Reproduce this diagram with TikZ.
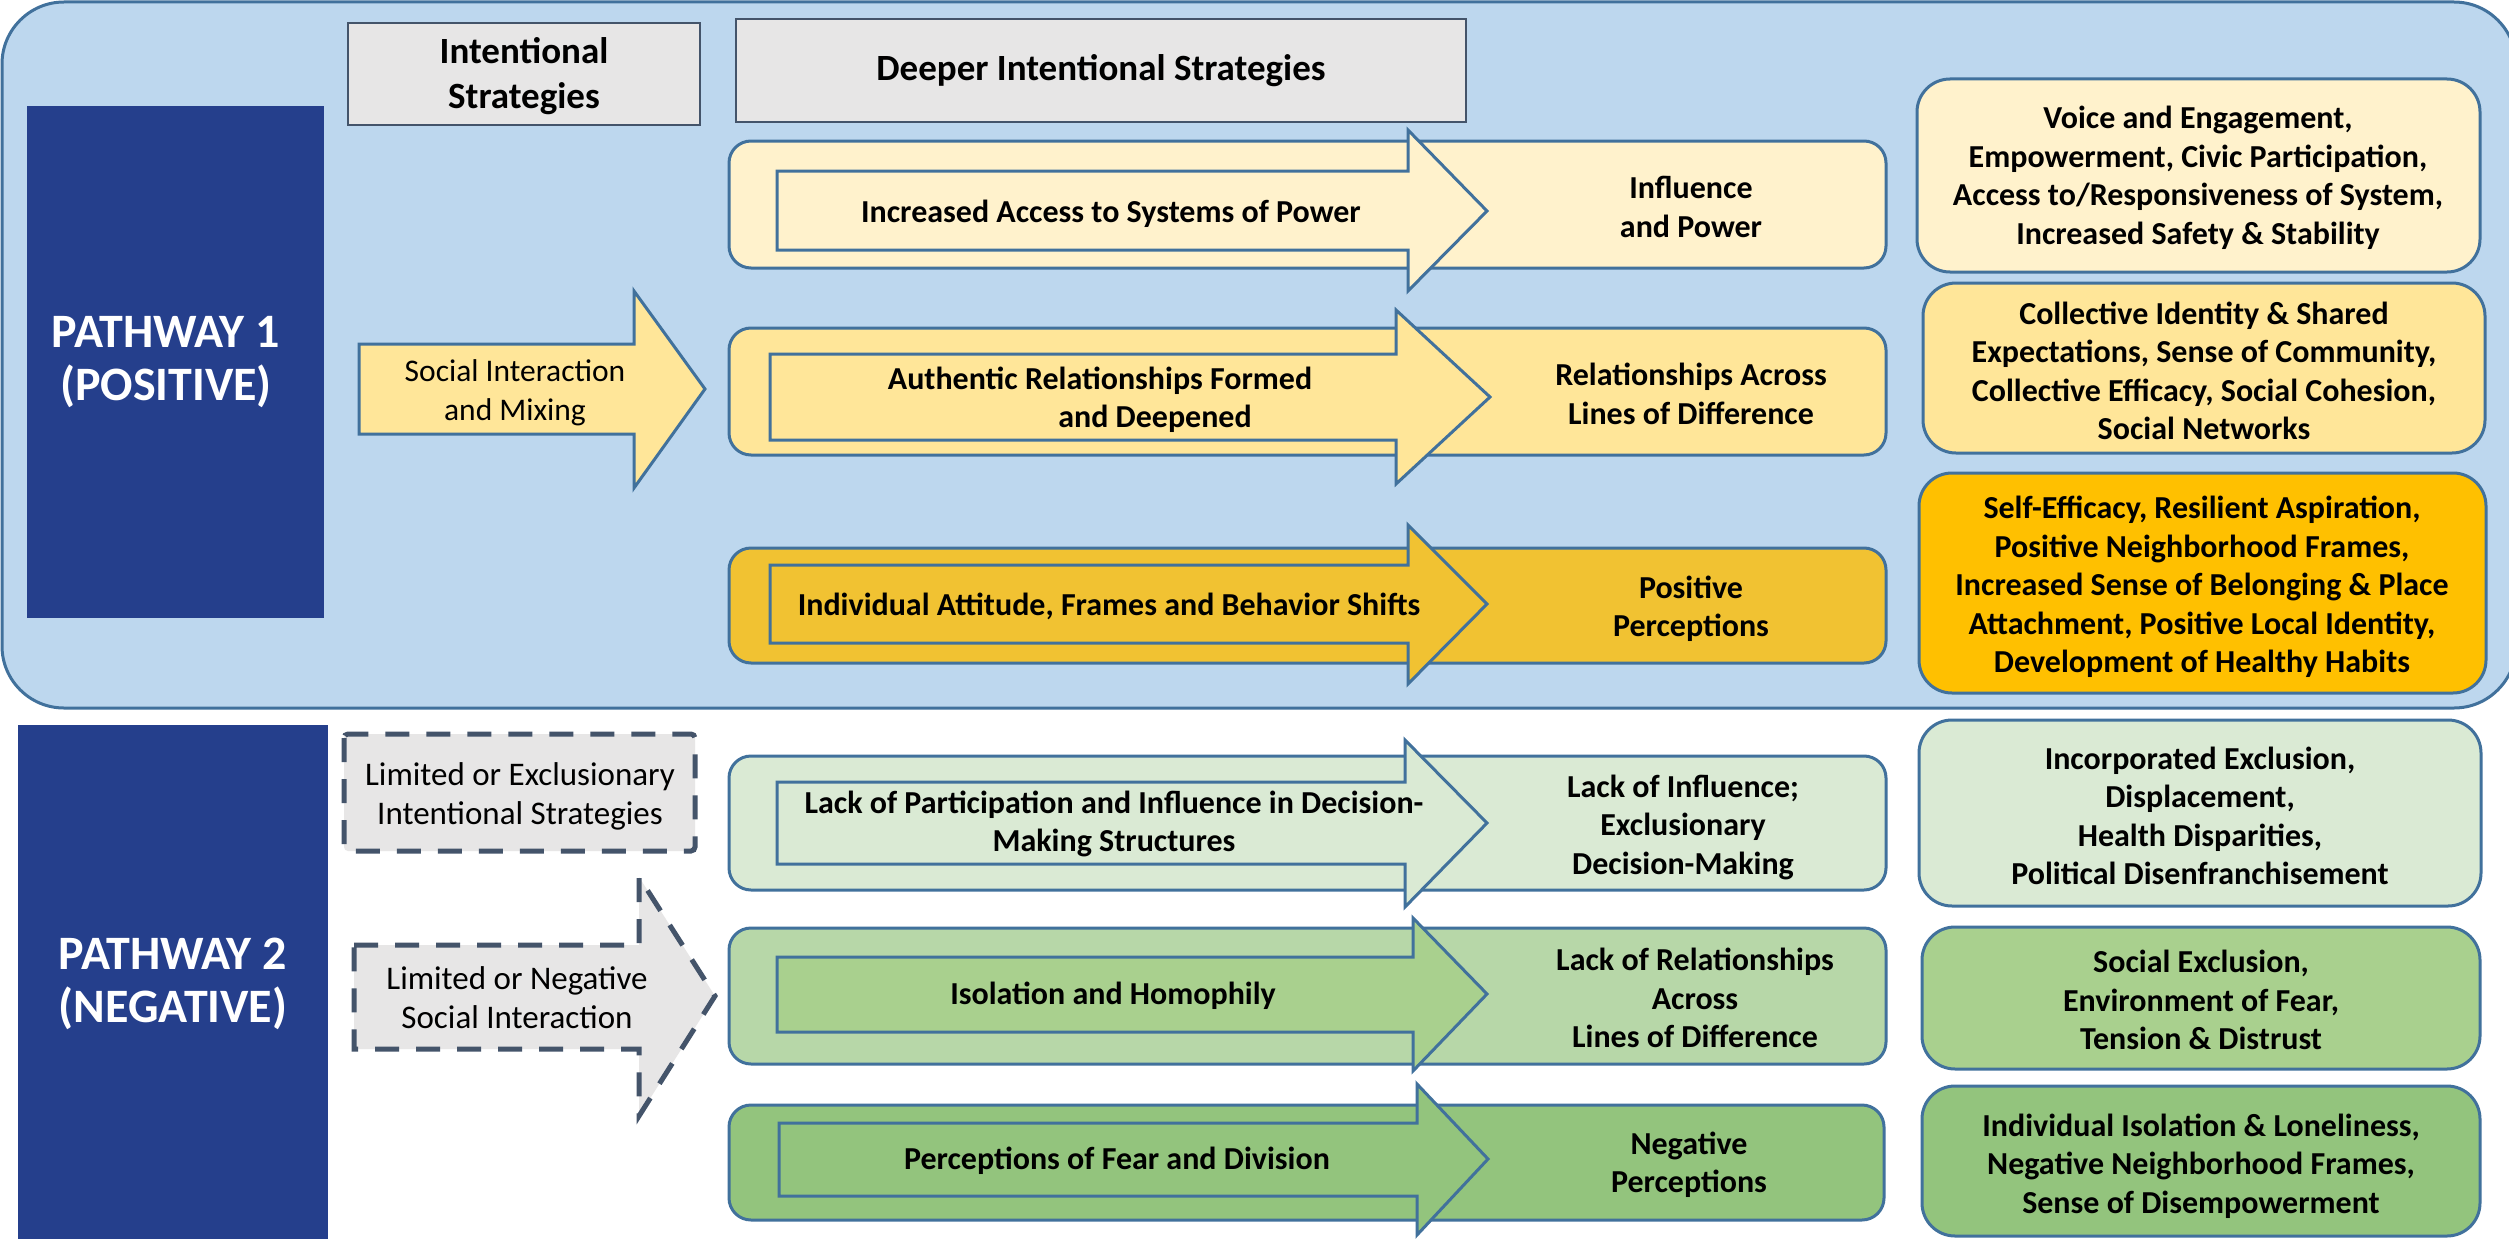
\documentclass[tikz,border=0pt]{standalone}
\usepackage{fontspec}
\setmainfont{Carlito}
\definecolor{bgblue}{HTML}{BDD7EE}
\definecolor{edgeblue}{HTML}{41719C}
\definecolor{navy}{HTML}{253F8C}
\definecolor{hdrgray}{HTML}{E7E6E6}
\definecolor{slate}{HTML}{44546A}
\definecolor{yA}{HTML}{FFF2CC}
\definecolor{yB}{HTML}{FFE699}
\definecolor{yC}{HTML}{F1C232}
\definecolor{yCr}{HTML}{FFC000}
\definecolor{gA}{HTML}{DAEAD4}
\definecolor{gB}{HTML}{B7D7A8}
\definecolor{gBa}{HTML}{A9D08E}
\definecolor{gC}{HTML}{93C47D}
\tikzset{
  rowbox/.style={draw=edgeblue, line width=3pt, rounded corners=22pt},
  outbox/.style={draw=edgeblue, line width=3pt, rounded corners=33pt},
  fatarrow/.style={draw=edgeblue, line width=3pt, line join=miter},
  hdrbox/.style={draw=slate, fill=hdrgray, line width=2.5pt},
  dashbox/.style={draw=slate, fill=hdrgray, line width=5pt, dash pattern=on 24pt off 17pt},
  txt/.style={font=\fontsize{31.5}{38.5}\selectfont, align=center, inner sep=0pt},
  dtxt/.style={font=\fontsize{33}{39}\selectfont, align=center, inner sep=0pt},
  btxt/.style={font=\fontsize{32}{38.5}\selectfont\bfseries, align=center, inner sep=0pt},
  htxt/.style={font=\fontsize{37}{44.5}\selectfont\bfseries, align=center, inner sep=0pt},
  ptxt/.style={font=\fontsize{48}{53}\selectfont\bfseries, align=center, inner sep=0pt, text=white},
}
\begin{document}
\begin{tikzpicture}[x=1pt,y=-1pt]
\useasboundingbox (0,0) rectangle (2509,1239);
\fill[white] (0,0) rectangle (2509,1239);

% ---------- Pathway 1 background ----------
\draw[fill=bgblue, draw=edgeblue, line width=3pt, rounded corners=62pt] (2,2) rectangle (2516,708);

% headers
\draw[hdrbox] (348,23) rectangle (700,125);
\node[htxt] (h1) at (524,76) {Intentional\\Strategies};
\draw[hdrbox] (736,19) rectangle (1466,122);
\node[htxt] (h2) at (1101,71) {Deeper Intentional Strategies};

% pathway 1 label
\fill[navy] (27,106) rectangle (324,618);
\node[ptxt] (p1) at (166,362) {PATHWAY 1\\(POSITIVE)};

% social interaction arrow
\draw[fatarrow, fill=yB] (359,344) -- (634,344) -- (634,291) -- (705,389) -- (634,488) -- (634,434) -- (359,434) -- cycle;
\node[txt] (si) at (515,393) {Social Interaction\\and Mixing};

% row 1
\draw[rowbox, fill=yA] (729,141) rectangle (1886,268);
\draw[fatarrow, fill=yA] (777,171) -- (1408,171) -- (1408,130) -- (1487,211) -- (1408,291) -- (1408,250) -- (777,250) -- cycle;
\node[btxt, anchor=base] (r1l) at (1111,222) {Increased Access to Systems of Power};
\node[btxt] (r1r) at (1691,207) {Influence\\and Power};

% row 2
\draw[rowbox, fill=yB] (729,328) rectangle (1886,455);
\draw[fatarrow, fill=yB] (770,354) -- (1396,354) -- (1396,310) -- (1490,397) -- (1396,484) -- (1396,440) -- (770,440) -- cycle;
\node[btxt] (r2l) at (1100,400) {Authentic Relationships Formed\\\hspace*{110pt}and Deepened};
\node[btxt] (r2r) at (1691,394) {Relationships Across\\Lines of Difference};

% row 3
\draw[rowbox, fill=yC] (729,548) rectangle (1886,663);
\draw[fatarrow, fill=yC] (770,565) -- (1408,565) -- (1408,525) -- (1487,604) -- (1408,684) -- (1408,643) -- (770,643) -- cycle;
\node[btxt, anchor=base] (r3l) at (1109,615) {Individual Attitude, Frames and Behavior Shifts};
\node[btxt] (r3r) at (1691,609) {Positive\\Perceptions};

% right outcome boxes (positive)
\draw[outbox, fill=yA] (1917,79) rectangle (2480,272);
\node[btxt] (o1) at (2198,178) {Voice and Engagement,\\Empowerment, Civic Participation,\\Access to/Responsiveness of System,\\Increased Safety \& Stability};
\draw[outbox, fill=yB] (1923,283) rectangle (2485,453);
\node[btxt] (o2) at (2204,371) {Collective Identity \& Shared\\Expectations, Sense of Community,\\Collective Efficacy, Social Cohesion,\\Social Networks};
\draw[outbox, fill=yCr] (1919,473) rectangle (2486,693);
\node[btxt] (o3) at (2202,587) {Self-Efficacy, Resilient Aspiration,\\Positive Neighborhood Frames,\\Increased Sense of Belonging \& Place\\Attachment, Positive Local Identity,\\Development of Healthy Habits};

% ---------- Pathway 2 ----------
\fill[navy] (18,725) rectangle (328,1245);
\node[ptxt] (p2) at (173,984) {PATHWAY 2\\(NEGATIVE)};

\draw[dashbox, rounded corners=4pt] (344,734) rectangle (695,851);
\node[dtxt] (ex) at (520,796) {Limited or Exclusionary\\Intentional Strategies};

\draw[dashbox] (354,945) -- (639,945) -- (639,877) -- (715,996) -- (639,1116) -- (639,1049) -- (354,1049) -- cycle;
\node[dtxt] (ln) at (517,998) {Limited or Negative\\Social Interaction};

% row 4
\draw[rowbox, fill=gA] (729,756) rectangle (1886,890);
\draw[fatarrow, fill=gA] (777,782) -- (1405,782) -- (1405,740) -- (1487,823) -- (1405,907) -- (1405,864) -- (777,864) -- cycle;
\node[btxt] (r4l) at (1114,824) {Lack of Participation and Influence in Decision-\\Making Structures};
\node[btxt] (r4r) at (1683,827) {Lack of Influence;\\Exclusionary\\Decision-Making};

% row 5
\draw[rowbox, fill=gB] (729,928) rectangle (1886,1064);
\draw[fatarrow, fill=gBa] (777,957) -- (1413,957) -- (1413,918) -- (1487,994) -- (1413,1071) -- (1413,1032) -- (777,1032) -- cycle;
\node[btxt, anchor=base] (r5l) at (1113,1004) {Isolation and Homophily};
\node[btxt] (r5r) at (1695,998) {Lack of Relationships\\Across\\Lines of Difference};

% row 6
\draw[rowbox, fill=gC] (729,1105) rectangle (1884,1220);
\draw[fatarrow, fill=gC] (779,1123) -- (1417,1123) -- (1417,1084) -- (1488,1159) -- (1417,1235) -- (1417,1196) -- (779,1196) -- cycle;
\node[btxt, anchor=base] (r6l) at (1117,1169) {Perceptions of Fear and Division};
\node[btxt] (r6r) at (1689,1165) {Negative\\Perceptions};

% right outcome boxes (negative)
\draw[outbox, fill=gA] (1919,720) rectangle (2481,906);
\node[btxt] (o4) at (2200,816) {Incorporated Exclusion,\\Displacement,\\Health Disparities,\\Political Disenfranchisement};
\draw[outbox, fill=gBa] (1922,927) rectangle (2480,1069);
\node[btxt] (o5) at (2201,1000) {Social Exclusion,\\Environment of Fear,\\Tension \& Distrust};
\draw[outbox, fill=gC] (1922,1086) rectangle (2480,1236);
\node[btxt] (o6) at (2201,1166) {Individual Isolation \& Loneliness,\\Negative Neighborhood Frames,\\Sense of Disempowerment};
\end{tikzpicture}
\end{document}
